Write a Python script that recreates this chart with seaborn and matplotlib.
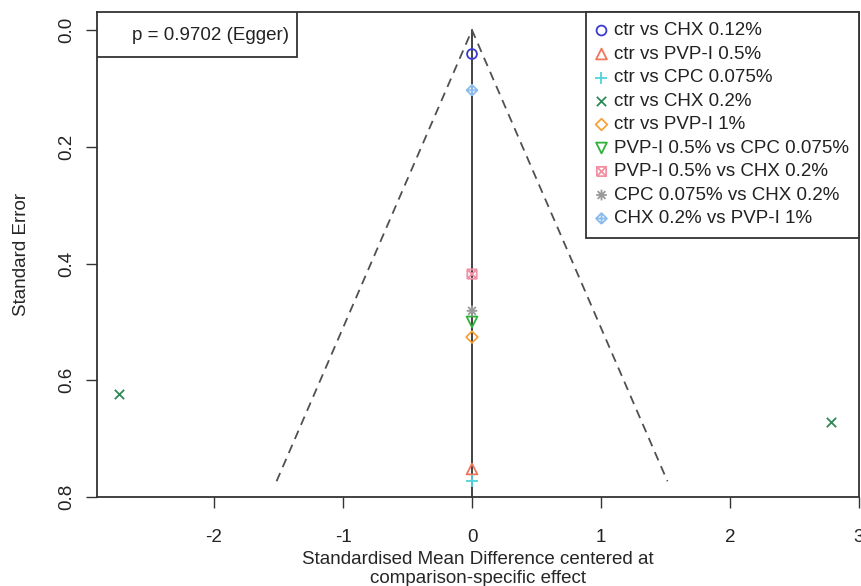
import numpy as np
import pandas as pd
import matplotlib
matplotlib.use("Agg")
import matplotlib.pyplot as plt
from matplotlib.path import Path
from matplotlib.patches import Rectangle
import seaborn as sns

# ==============================
# DATA
# ==============================
comparisons = ["ctr vs CHX 0.12%", "ctr vs PVP-I 0.5%", "ctr vs CPC 0.075%",
               "ctr vs CHX 0.2%", "ctr vs PVP-I 1%", "PVP-I 0.5% vs CPC 0.075%",
               "PVP-I 0.5% vs CHX 0.2%", "CPC 0.075% vs CHX 0.2%",
               "CHX 0.2% vs PVP-I 1%"]

# one row per study point
point_comparison = ["ctr vs CHX 0.12%", "ctr vs PVP-I 0.5%", "ctr vs CPC 0.075%",
                    "ctr vs CHX 0.2%", "ctr vs CHX 0.2%", "ctr vs PVP-I 1%",
                    "PVP-I 0.5% vs CPC 0.075%", "PVP-I 0.5% vs CHX 0.2%",
                    "CPC 0.075% vs CHX 0.2%", "CHX 0.2% vs PVP-I 1%"]
smd_centered = [0.0, 0.0, 0.0, -2.74, 2.78, 0.0, 0.0, 0.0, 0.0, 0.0]
std_error = [0.041, 0.752, 0.773, 0.623, 0.672, 0.526, 0.50, 0.418, 0.481, 0.103]

egger_p = 0.9702

colors = ["#3b3bd0", "#f0765a", "#4fd3dc", "#2f8a55", "#f5a23a",
          "#2fb23a", "#f290a6", "#9a9a9a", "#8cbcec"]

# custom R-like markers (pch 7, 8, 9)
sq_x = Path([(-1, -1), (1, -1), (1, 1), (-1, 1), (-1, -1), (-1, -1), (1, 1), (-1, 1), (1, -1)],
            [1, 2, 2, 2, 2, 1, 2, 1, 2])
star = Path([(-1, 0), (1, 0), (0, -1), (0, 1), (-0.72, -0.72), (0.72, 0.72), (-0.72, 0.72), (0.72, -0.72)],
            [1, 2, 1, 2, 1, 2, 1, 2])
dia_plus = Path([(0, -1), (1, 0), (0, 1), (-1, 0), (0, -1), (-1, 0), (1, 0), (0, -1), (0, 1)],
                [1, 2, 2, 2, 2, 1, 2, 1, 2])
markers = ["o", "^", "+", "x", "D", "v", sq_x, star, dia_plus]
sizes = [50, 60, 70, 45, 35, 60, 45, 60, 60]

df = pd.DataFrame({"comparison": point_comparison, "smd": smd_centered, "se": std_error})

# ==============================
# PLOT
# ==============================
sns.set_theme(style="white")
plt.rcParams['font.family'] = ['Liberation Sans', 'DejaVu Sans']
plt.rcParams['text.color'] = '#222222'
plt.rcParams['axes.unicode_minus'] = False

fig = plt.figure(figsize=(8.61, 5.86), dpi=100)
ax = fig.add_axes([97/861, 1-497/586, (859-97)/861, (497-12)/586])

# funnel
se_max = df["se"].max()
ax.plot([0, 0], [0, 0.8], color="#333333", lw=1.3, zorder=1)
sns.lineplot(x=[-1.96*se_max, 0, 1.96*se_max], y=[se_max, 0, se_max], sort=False,
             estimator=None, color="#505050", lw=1.3, ax=ax, zorder=1)
ax.lines[-1].set_dashes((5, 3.5))

for comp, col, m, s in zip(comparisons, colors, markers, sizes):
    sub = df[df["comparison"] == comp]
    face = col if m in ("+", "x") else "none"
    sns.scatterplot(data=sub, x="smd", y="se", marker=m, facecolors=face,
                    edgecolor=col, color=col, s=s, linewidth=1.3, label=comp,
                    ax=ax, zorder=3)

ax.set_xlim(-2.907, 3.0)
ax.set_ylim(0.8, -0.031)
ax.set_xticks([-2, -1, 0, 1, 2, 3])
ax.set_yticks([0.0, 0.2, 0.4, 0.6, 0.8])
ax.set_yticklabels(["0.0", "0.2", "0.4", "0.6", "0.8"], rotation=90, va="center")
ax.tick_params(axis="both", direction="out", length=8, width=1, color="#333333",
               labelsize=13.5, labelcolor="#222222", left=True, bottom=True)
ax.tick_params(axis="x", pad=15)
ax.tick_params(axis="y", pad=8)
for sp in ax.spines.values():
    sp.set_color("#333333")
    sp.set_linewidth(1.3)

ax.set_xlabel("Standardised Mean Difference centered at\ncomparison-specific effect",
              fontsize=13.5, labelpad=4, linespacing=1.15)
ax.set_ylabel("Standard Error", fontsize=13.5, labelpad=20)

# Egger box
ax.add_patch(Rectangle((0, 1-(57-12)/485), (297-97)/761, (57-12)/485, transform=ax.transAxes,
                       facecolor="white", edgecolor="#333333", lw=1.3, zorder=4))
ax.text((289-97)/761, 1-(36-12)/485, f"p = {egger_p} (Egger)", transform=ax.transAxes,
        ha="right", va="center", fontsize=13.5, zorder=5)

leg = ax.legend(loc="upper right", frameon=True, fancybox=False, framealpha=1,
                edgecolor="#333333", fontsize=13.5, borderaxespad=0, borderpad=0.55,
                labelspacing=0.34, handlelength=0.6, handletextpad=0.35)
leg.get_frame().set_linewidth(1.3)
leg.set_zorder(6)

fig.savefig("out.png", dpi=100)
